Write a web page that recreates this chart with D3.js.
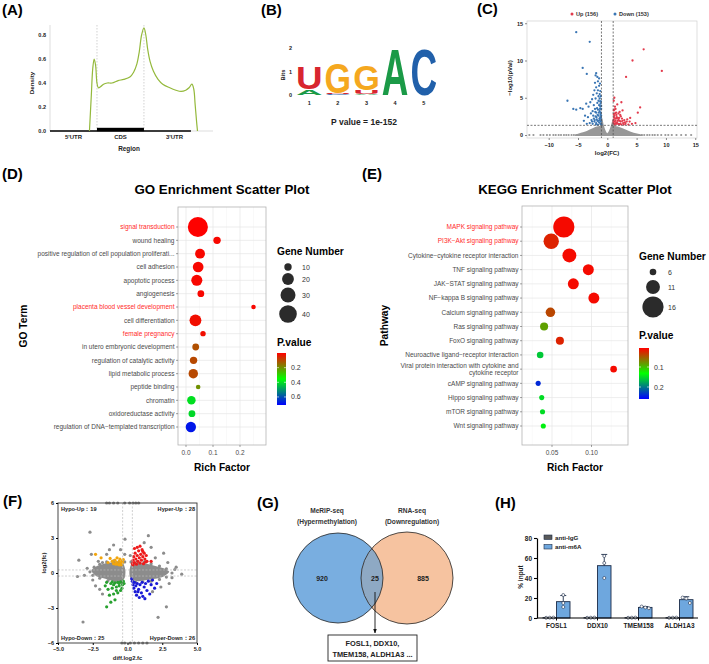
<!DOCTYPE html>
<html>
<head>
<meta charset="utf-8">
<script src="https://cdn.jsdelivr.net/npm/d3@7/dist/d3.min.js"></script>
<style>
  body { margin: 0; background: #fff; }
  text { font-family: "Liberation Sans", Arial, sans-serif; }
</style>
</head>
<body>
<div class="canvas"></div>
<script>
// ================= data =================

// (A) peak density along the transcript (0-1 5'UTR, 1-2 CDS, 2-3 3'UTR)
const regionNames = ["5'UTR", "CDS", "3'UTR"];
const densityTicks = [0, 0.2, 0.4, 0.6, 0.8];
const densityPos = [0.84,0.88,0.91,0.94,0.97,1.00,1.03,1.08,1.14,1.22,1.32,1.45,1.57,1.70,1.78,1.85,1.90,1.95,2.00,2.04,2.08,2.13,2.20,2.30,2.40,2.55,2.68,2.79,2.89,2.96,3.02,3.06,3.09,3.12,3.14];
const densityVal = [0.00,0.30,0.52,0.60,0.55,0.40,0.36,0.37,0.39,0.40,0.40,0.42,0.43,0.45,0.49,0.56,0.66,0.80,0.86,0.80,0.68,0.58,0.50,0.43,0.39,0.36,0.34,0.33,0.34,0.36,0.39,0.35,0.22,0.08,0.00];

// (B) motif logo, letters stacked bottom -> top, heights in bits
const logoPositions = [1, 2, 3, 4, 5];
const logoLetters = [['A','U'], ['C','U','G'], ['A','U','G'], ['A'], ['C']];
const logoBits = [[0.24,0.95], [0.05,0.05,1.30], [0.05,0.18,1.05], [2.0], [2.0]];
const motifP = '1e-152';

// (C) volcano
const volcanoLegend = ['Up', 'Down'];
const volcanoCounts = [156, 153];
const volcanoUp = [[6.2,11.5],[4.3,10.0],[9.3,8.6],[3.2,7.8],[5.2,3.0],[5.6,3.7],[2.6,3.3],[2.4,4.4],[1.7,4.1],[1.3,3.8],[1.1,3.3],[1.5,3.0],[1.9,2.9],[2.2,2.7],[1.2,2.6],[1.6,2.4],[2.0,2.3],[2.5,2.2],[2.9,2.0],[3.4,2.1],[3.8,1.8],[1.1,2.1],[1.4,1.9],[1.8,1.9],[2.3,1.8],[2.7,1.6],[3.1,1.5],[3.6,1.4],[4.2,1.5],[1.05,1.6],[1.3,1.5],[1.6,1.5],[2.0,1.45],[2.4,1.4],[1.2,1.8],[1.5,2.2],[1.9,2.1],[1.3,2.9],[1.1,4.6],[1.2,5.0],[3.0,1.7],[2.2,1.5],
  [1.05,1.9],[1.15,2.4],[1.25,1.4],[1.35,2.2],[1.45,1.6],[1.55,2.7],[1.65,1.7],[1.75,2.3],[1.85,1.5],[2.1,1.9],[2.3,2.5],[2.6,1.9],[2.8,1.4],[3.3,1.8],[1.1,2.8],[1.2,3.4],[1.4,3.5],[4.8,1.6],[3.9,2.3],[2.1,3.1]];
const volcanoDown = [[-5.3,13.8],[-3.0,12.5],[-4.2,9.0],[-3.5,8.2],[-1.9,8.3],[-2.0,8.0],[-6.8,4.6],[-5.8,3.5],[-5.3,3.4],[-4.6,3.6],[-4.2,3.5],[-3.6,4.2],[-3.2,3.8],[-2.9,4.4],[-2.6,4.8],[-2.4,5.4],[-2.2,6.0],[-1.9,6.4],[-1.6,7.2],[-1.4,6.6],[-1.8,5.6],[-1.5,5.2],[-1.2,5.9],[-1.3,4.9],[-1.1,4.5],[-2.0,4.9],[-2.3,4.0],[-1.7,4.3],[-1.4,4.0],[-1.2,3.8],[-3.8,2.6],[-3.3,2.4],[-2.8,2.9],[-2.5,3.2],[-2.1,3.5],[-1.9,3.0],[-1.6,3.4],[-1.3,3.2],[-1.1,3.0],[-2.7,2.0],[-2.3,2.2],[-2.0,2.5],[-1.8,2.1],[-1.5,2.6],[-1.2,2.4],[-1.05,2.0],[-3.0,1.6],[-2.5,1.5],[-2.2,1.8],[-1.9,1.6],[-1.7,1.9],[-1.4,1.7],[-1.2,1.5],[-1.1,1.8],[-1.6,1.4],[-1.3,2.0],[-1.05,2.6],[-1.05,3.5],[-1.15,4.2],[-1.0,1.4],[-4.0,1.9],[-3.5,1.5],
  [-1.05,1.5],[-1.1,2.3],[-1.15,2.8],[-1.25,3.5],[-1.35,2.2],[-1.45,3.0],[-1.55,1.9],[-1.65,2.7],[-1.75,3.6],[-1.85,2.4],[-1.95,1.4],[-2.05,3.1],[-2.15,2.0],[-2.4,2.6],[-2.6,1.8],[-1.2,4.5],[-1.3,5.5],[-1.5,4.6],[-1.05,3.9],[-1.1,5.2],[-1.6,6.0],[-1.4,7.6],[-1.25,6.9],[-1.7,7.8],[-2.1,7.0]];
// outline of the dense non-significant cloud [log2FC, top of cloud]
const volcanoNsCloud = [[-5.5,0.05],[-4.5,0.3],[-3.5,0.55],[-2.5,0.9],[-1.8,1.15],[-1.2,1.25],[-1.0,2.6],[-0.85,2.2],[-0.6,1.3],[-0.3,0.6],[0,0.25],[0.3,0.6],[0.6,1.2],[0.85,1.9],[1.0,2.1],[1.2,1.25],[1.8,1.15],[2.5,0.95],[3.5,0.6],[4.5,0.3],[6.0,0.05]];
// scattered non-significant points lying on -log10(p) ~ 0
const volcanoNsRow = [-13.3,-12.6,-11.4,-10.9,-10.3,-9.8,-9.2,-8.8,-8.3,-7.9,-7.4,-7.0,-6.6,-6.1,-5.7,-5.3,-4.9,-4.5,4.6,5.0,5.4,5.9,6.3,6.8,7.2,7.7,8.1,8.6,9.2,9.9,10.4,11.0,11.8,12.6,13.4,14.3];

// (D) GO enrichment
const goTerms = ['signal transduction','wound healing','positive regulation of cell population proliferati...','cell adhesion','apoptotic process','angiogenesis','placenta blood vessel development','cell differentiation','female pregnancy','in utero embryonic development','regulation of catalytic activity','lipid metabolic process','peptide binding','chromatin','oxidoreductase activity','regulation of DNA\u2212templated transcription'];
const goRich = [0.044,0.115,0.052,0.045,0.040,0.055,0.250,0.035,0.063,0.036,0.028,0.027,0.045,0.020,0.022,0.018];
const goGenes = [51,10,15,17,18,9,6,20,7,9,10,14,6,12,9,16];
const goP = [0.001,0.01,0.01,0.01,0.01,0.01,0.01,0.02,0.02,0.11,0.10,0.10,0.20,0.40,0.41,0.68];
const goHighlight = ['signal transduction','placenta blood vessel development','female pregnancy'];
const goSizeLegend = [10, 20, 30, 40];
const goPTicks = [0.2, 0.4, 0.6];

// (E) KEGG enrichment
const keggTerms = ['MAPK signaling pathway','PI3K\u2212Akt signaling pathway','Cytokine\u2212cytokine receptor interaction','TNF signaling pathway','JAK\u2212STAT signaling pathway','NF\u2212kappa B signaling pathway','Calcium signaling pathway','Ras signaling pathway','FoxO signaling pathway','Neuroactive ligand\u2212receptor interaction','Viral protein interaction with cytokine and\ncytokine receptor','cAMP signaling pathway','Hippo signaling pathway','mTOR signaling pathway','Wnt signaling pathway'];
const keggRich = [0.065,0.049,0.072,0.096,0.077,0.103,0.048,0.040,0.060,0.035,0.128,0.0325,0.037,0.038,0.039];
const keggGenes = [16,12,11,9,9,9,8,7,7,6,6,5,5,5,5];
const keggP = [0.01,0.022,0.01,0.01,0.01,0.01,0.04,0.085,0.022,0.16,0.01,0.24,0.15,0.15,0.14];
const keggHighlight = ['MAPK signaling pathway','PI3K\u2212Akt signaling pathway'];
const keggSizeLegend = [6, 11, 16];
const keggPTicks = [0.1, 0.2];

// (F) four-quadrant plot [diff.log2.fc, log2(fc)]
const quadNames = ['Hypo-Up', 'Hyper-Up', 'Hypo-Down', 'Hyper-Down'];
const quadCounts = [19, 28, 25, 26];
const fHypoUp = [[-2.3,1.6],[-1.9,1.3],[-1.25,1.25],[-1.1,1.0],[-1.0,0.8],[-0.9,1.1],[-0.8,0.9],[-0.75,1.3],[-0.7,0.75],[-0.6,1.0],[-0.55,1.2],[-0.5,0.85],[-0.45,0.7],[-0.4,1.05],[-0.35,0.9],[-0.3,1.15],[-0.6,0.7],[-0.85,0.75],[-1.4,0.9]];
const fHyperUp = [[0.35,0.8],[0.4,1.1],[0.45,1.4],[0.5,0.9],[0.55,1.7],[0.6,1.2],[0.65,0.75],[0.7,1.5],[0.75,1.0],[0.8,1.9],[0.85,1.3],[0.9,0.85],[0.95,1.6],[1.0,1.1],[1.05,2.0],[1.1,1.4],[1.15,0.8],[1.2,1.7],[1.25,1.2],[1.3,0.95],[1.35,1.5],[0.5,2.1],[0.7,2.2],[1.4,1.0],[1.7,1.0],[0.4,0.7],[0.9,2.3],[1.1,1.85]];
const fHypoDown = [[-1.5,-2.9],[-1.2,-2.5],[-0.9,-2.3],[-1.3,-1.9],[-1.0,-1.8],[-0.7,-1.7],[-0.5,-1.5],[-1.4,-1.4],[-1.1,-1.3],[-0.8,-1.2],[-0.6,-1.1],[-0.35,-1.0],[-1.2,-0.9],[-0.9,-0.85],[-0.7,-0.8],[-0.5,-0.75],[-0.3,-0.7],[-1.0,-1.0],[-0.4,-1.3],[-0.6,-0.9],[-1.5,-0.8],[-0.25,-0.9],[-0.8,-1.5],[-1.1,-0.75],[-1.6,-1.1]];
const fHyperDown = [[0.35,-0.7],[0.4,-1.0],[0.45,-1.3],[0.5,-0.8],[0.55,-1.6],[0.6,-1.1],[0.65,-1.9],[0.7,-0.9],[0.8,-1.4],[0.85,-2.1],[0.9,-1.0],[1.0,-1.7],[1.05,-0.8],[1.1,-2.0],[1.2,-1.2],[1.3,-0.9],[1.4,-1.5],[1.5,-0.7],[1.6,-1.8],[1.7,-1.0],[1.8,-0.6],[1.95,-1.3],[2.1,-0.9],[0.3,-0.5],[1.25,-2.2],[0.75,-1.6]];
const fOther = [[-2.7,3.5],[-0.18,2.9],[1.5,3.2],[-3.2,-4.2],[2.8,-2.9],[2.2,-3.8],[-3.5,1.1],[3.9,-0.1],[3.5,0.5],[2.6,1.7],[-2.6,1.6],[-1.5,1.6],[-2.3,-1.1],[-3.6,-0.3],[1.8,-1.6],[-1.0,2.4],[1.7,2.2],[-2.9,0.4],[-3.1,-0.2],[-2.5,-0.6],[-2.0,-1.4],[2.9,0.9],[3.2,-0.4],[2.4,-1.2],[3.0,-0.9],[-1.8,-1.8],[2.0,1.3],[-2.1,1.0],[-1.3,2.0],[0.2,1.5],[-0.2,1.6],[1.2,2.6],[-0.5,2.0],
  [-2.4,0.5],[-2.0,0.75],[-1.5,0.95],[-1.0,1.05],[-2.5,-0.2],[-2.0,-0.45],[-1.4,-0.65],[-0.9,-0.8],[-0.4,-0.85],[-2.7,0.1],[-1.8,0.9],[-0.2,0.95],
  [0.25,0.95],[0.7,1.0],[1.2,0.95],[1.7,0.8],[2.3,0.6],[2.8,0.35],[3.2,0.0],[2.8,-0.35],[2.3,-0.55],[1.7,-0.7],[1.1,-0.75],[0.6,-0.8],[3.4,0.3],
  [-1.5,6],[-1.3,6],[-1.0,6],[-0.7,6],[-0.2,6],[0.15,6],[0.4,6],[0.6,6],[0.8,6],
  [-0.4,-6],[-0.2,-6],[0.2,-6],[0.5,-6],[0.8,-6],[1.1,-6],[1.4,-6]];
// outlines of the two dense grey lobes
const fLobeLeft = [[-2.6,0.2],[-2.2,0.6],[-1.7,0.8],[-1.2,0.9],[-0.7,1.0],[-0.3,0.8],[-0.15,0.2],[-0.2,-0.4],[-0.5,-0.75],[-1.0,-0.7],[-1.6,-0.5],[-2.2,-0.3]];
const fLobeRight = [[0.15,0.3],[0.3,0.8],[0.8,0.9],[1.4,0.8],[2.0,0.6],[2.6,0.4],[3.0,0.1],[2.6,-0.3],[2.0,-0.5],[1.4,-0.6],[0.8,-0.7],[0.3,-0.6],[0.15,-0.2]];

// (G) Venn
const vennSets = [['MeRIP-seq','(Hypermethylation)'], ['RNA-seq','(Downregulation)']];
const vennCounts = [920, 25, 885];
const overlapGenes = ['FOSL1', 'DDX10', 'TMEM158', 'ALDH1A3'];

// (H) MeRIP-qPCR
const hGenes = ['FOSL1', 'DDX10', 'TMEM158', 'ALDH1A3'];
const hGroups = ['anti-IgG', 'anti-m6A'];
const igGReps = [[0.2,0.3,0.4],[0.2,0.3,0.4],[0.2,0.3,0.4],[0.2,0.3,0.4]];
const m6aReps = [[23,15,11],[62,55,40],[11.5,10.5,9.8],[20.5,19.5,15]];
const hTicks = [0, 20, 40, 60, 80];

// ================= drawing =================
const svg = d3.select('.canvas').append('svg')
    .attr('width', 709)
    .attr('height', 664)
    .style('background', '#fff');

function addText(g, x, y, s, o = {}) {
  return g.append('text').attr('x', x).attr('y', y).text(s)
    .attr('font-size', o.size || 6)
    .attr('font-weight', o.weight || 'normal')
    .attr('text-anchor', o.anchor || 'start')
    .attr('fill', o.fill || '#222');
}
function vText(g, x, y, s, o = {}) {
  return g.append('text').text(s)
    .attr('transform', `translate(${x},${y}) rotate(-90)`)
    .attr('font-size', o.size || 6)
    .attr('font-weight', o.weight || 'bold')
    .attr('text-anchor', 'middle')
    .attr('fill', o.fill || '#222');
}
function line(g, x1, y1, x2, y2, stroke, w, dash) {
  const l = g.append('line').attr('x1', x1).attr('y1', y1).attr('x2', x2).attr('y2', y2)
    .attr('stroke', stroke).attr('stroke-width', w || 1);
  if (dash) l.attr('stroke-dasharray', dash);
  return l;
}
function styleAxis(sel, size, weight) {
  sel.attr('font-family', null).attr('font-size', null);
  sel.selectAll('text').attr('font-size', size).attr('font-weight', weight).attr('fill', '#222');
}

// panel letters
const panelLetters = [['(A)',2,15],['(B)',261,15],['(C)',477,14],['(D)',2,179],['(E)',362,179],['(F)',3,506],['(G)',257,508],['(H)',495,508]];
panelLetters.forEach(p => addText(svg, p[1], p[2], p[0], {size: 15, weight: 'bold', fill: '#000'}));

// ---------- (A) ----------
{
  const g = svg.append('g');
  const x = d3.scaleLinear().domain([0, 3.47]).range([50, 213]);
  const y = d3.scaleLinear().domain([0, 0.8]).range([131, 35]);
  line(g, 50, 25, 50, 131, '#d4d4d4', 0.8);
  line(g, 50, 131, 213, 131, '#d4d4d4', 0.8);
  [1, 2].forEach(b => line(g, x(b), 25, x(b), 131, '#bdbdbd', 0.7, '1.5,1.5'));

  const yAxis = g.append('g').attr('transform', 'translate(50,0)')
    .call(d3.axisLeft(y).tickValues(densityTicks).tickSize(0).tickPadding(4).tickFormat(d3.format('.1f')));
  yAxis.select('.domain').remove();
  styleAxis(yAxis, 5.5, 'bold');

  // gene model
  line(g, x(0), 131, x(3), 131, '#000', 1.4);
  g.append('rect').attr('x', x(1)).attr('y', 127.8).attr('width', x(2) - x(1)).attr('height', 3.4).attr('fill', '#000');

  const pts = densityPos.map((p, i) => [p, densityVal[i]]);
  g.append('path').datum(pts)
    .attr('d', d3.line().x(d => x(d[0])).y(d => y(d[1])).curve(d3.curveCatmullRom))
    .attr('fill', 'none').attr('stroke', '#94b93c').attr('stroke-width', 1.2);

  [0.5, 1.5, 2.65].forEach((c, i) => addText(g, x(c), 138.8, regionNames[i], {size: 6, weight: 'bold', anchor: 'middle'}));
  addText(g, 129, 151, 'Region', {size: 6.4, weight: 'bold', anchor: 'middle'});
  vText(g, 33.5, 83, 'Density', {size: 6.2});
}

// ---------- (B) ----------
{
  const g = svg.append('g');
  const x = d3.scaleBand().domain(logoPositions).range([296, 437]).paddingInner(0.07);
  const y = d3.scaleLinear().domain([0, 2]).range([95, 48]);
  const logoColors = {A: '#1b9a47', C: '#2160aa', G: '#f5a81f', U: '#d8262f'};
  logoLetters.forEach((stack, i) => {
    let base = 0;
    stack.forEach((letter, j) => {
      const h = logoBits[i][j];
      const t = g.append('text').text(letter)
        .attr('font-size', 50).attr('font-weight', 'bold').attr('fill', logoColors[letter]);
      const w = t.node().getComputedTextLength();
      const sx = x.bandwidth() / w;
      const sy = (y(base) - y(base + h)) / (0.716 * 50);
      t.attr('transform', `translate(${x(logoPositions[i])},${y(base)}) scale(${sx},${sy})`);
      base += h;
    });
  });
  const xAxis = g.append('g').attr('transform', 'translate(0,97)')
    .call(d3.axisBottom(x).tickSize(0).tickPadding(4));
  xAxis.select('.domain').remove();
  styleAxis(xAxis, 5.5, 'bold');
  const yAxis = g.append('g').attr('transform', 'translate(294,0)')
    .call(d3.axisLeft(y).tickValues([0, 1, 2]).tickFormat(d3.format('d')).tickSize(0).tickPadding(2));
  yAxis.select('.domain').remove();
  styleAxis(yAxis, 5.5, 'bold');
  vText(g, 285, 75, 'Bits', {size: 5.8});
  addText(g, 364, 125, 'P value = ' + motifP, {size: 8.5, weight: 'bold', anchor: 'middle'});
}

// ---------- (C) ----------
{
  const g = svg.append('g');
  const x = d3.scaleLinear().domain([-13.7, 15.3]).range([527, 697]);
  const y = d3.scaleLinear().domain([-0.4, 15.3]).range([138, 21]);
  g.append('rect').attr('x', 527).attr('y', 21).attr('width', 170).attr('height', 117)
    .attr('fill', 'none').attr('stroke', '#d0d0d0').attr('stroke-width', 0.7);

  g.append('path').datum(volcanoNsCloud)
    .attr('d', d3.area().x(d => x(d[0])).y0(y(-0.12)).y1(d => y(d[1])).curve(d3.curveMonotoneX))
    .attr('fill', '#979797');
  g.selectAll('circle.row').data(volcanoNsRow).join('circle')
    .attr('cx', d => x(d)).attr('cy', y(0)).attr('r', 1.1).attr('fill', '#979797');
  g.selectAll('circle.dn').data(volcanoDown).join('circle')
    .attr('cx', d => x(d[0])).attr('cy', d => y(d[1])).attr('r', 1.15).attr('fill', '#3a76b4');
  g.selectAll('circle.up').data(volcanoUp).join('circle')
    .attr('cx', d => x(d[0])).attr('cy', d => y(d[1])).attr('r', 1.15).attr('fill', '#e33b4d');

  [-1, 1].forEach(v => line(g, x(v), 21, x(v), 138, '#555', 0.8, '2,1.5'));
  line(g, 527, y(1.3), 697, y(1.3), '#555', 0.8, '2,1.5');

  const xAxis = g.append('g').attr('transform', 'translate(0,138)')
    .call(d3.axisBottom(x).tickValues([-10, -5, 0, 5, 10, 15]).tickSize(2).tickPadding(3));
  xAxis.select('.domain').remove();
  styleAxis(xAxis, 5.5, 'bold');
  const yAxis = g.append('g').attr('transform', 'translate(527,0)')
    .call(d3.axisLeft(y).tickValues([0, 5, 10, 15]).tickSize(2).tickPadding(2));
  yAxis.select('.domain').remove();
  styleAxis(yAxis, 5.5, 'bold');
  xAxis.selectAll('line').attr('stroke', '#888');
  yAxis.selectAll('line').attr('stroke', '#888');
  addText(g, 607, 155, 'log2(FC)', {size: 6, weight: 'bold', anchor: 'middle'});
  vText(g, 511.5, 78, '\u2212log10(pVal)', {size: 6});

  const legCol = ['#e33b4d', '#3a76b4'];
  [572, 615].forEach((lx, i) => {
    g.append('circle').attr('cx', lx).attr('cy', 14).attr('r', 1.5).attr('fill', legCol[i]);
    addText(g, lx + 4, 16, `${volcanoLegend[i]} (${volcanoCounts[i]})`, {size: 5.6, weight: 'bold', fill: '#333'});
  });
}

// ---------- (D) & (E) ----------
function enrichPlot(o) {
  const g = svg.append('g');
  const [bx0, by0, bx1, by1] = o.box;
  const x = d3.scaleLinear().domain(o.xDomain).range(o.xRange);
  const y = d3.scalePoint().domain(o.terms).range(o.rows);
  const col = d3.scaleLinear().domain(o.pStops).range(['#ff0000', '#00ff00', '#0000ff']).interpolate(d3.interpolateRgb);

  g.append('rect').attr('x', bx0).attr('y', by0).attr('width', bx1 - bx0).attr('height', by1 - by0).attr('fill', '#fff');
  o.minor.forEach(v => line(g, x(v), by0, x(v), by1, '#f2f2f2', 0.5));
  o.major.forEach(v => line(g, x(v), by0, x(v), by1, '#e5e5e5', 0.7));
  o.terms.forEach(t => line(g, bx0, y(t), bx1, y(t), '#e5e5e5', 0.7));

  const pts = o.terms.map((t, i) => ({t, rf: o.rich[i], n: o.genes[i], p: o.p[i]}));
  g.selectAll('circle.pt').data(pts).join('circle')
    .attr('cx', d => x(d.rf)).attr('cy', d => y(d.t)).attr('r', d => o.size(d.n))
    .attr('fill', d => col(d.p));
  g.append('rect').attr('x', bx0).attr('y', by0).attr('width', bx1 - bx0).attr('height', by1 - by0)
    .attr('fill', 'none').attr('stroke', '#b3b3b3').attr('stroke-width', 0.8);

  // y labels
  o.terms.forEach(t => {
    line(g, bx0 - 2, y(t), bx0, y(t), '#444', 0.5);
    const lines = t.split('\n');
    const tx = g.append('text').attr('x', bx0 - 3.5).attr('y', y(t))
      .attr('font-size', 6.5).attr('text-anchor', 'end')
      .attr('fill', o.highlight.includes(t) ? '#ff2a2a' : '#4a4a4a');
    lines.forEach((s, k) => tx.append('tspan').attr('x', bx0 - 3.5)
      .attr('dy', k === 0 ? (0.35 - (lines.length - 1) * 0.55) + 'em' : '1.1em').text(s));
  });
  // x ticks
  o.major.forEach(v => {
    line(g, x(v), by1, x(v), by1 + 2, '#444', 0.5);
    addText(g, x(v), by1 + 9.5, o.fmt(v), {size: 6.5, anchor: 'middle', fill: '#4a4a4a'});
  });
  const cx = (bx0 + bx1) / 2;
  addText(g, cx, 194, o.title, {size: 13.3, weight: 'bold', anchor: 'middle', fill: '#000'});
  addText(g, cx, 471, 'Rich Factor', {size: 10.2, weight: 'bold', anchor: 'middle', fill: '#000'});
  vText(g, o.yLabX, (by0 + by1) / 2, o.yLabel, {size: 10.2, fill: '#000'});

  // size legend
  const L = o.sizeLeg;
  addText(g, L.x, L.y, 'Gene Number', {size: 10.2, weight: 'bold', fill: '#000'});
  o.sizeValues.forEach((v, i) => {
    g.append('circle').attr('cx', L.cx).attr('cy', L.cy[i]).attr('r', o.size(v)).attr('fill', '#2b2b2b');
    addText(g, L.tx, L.cy[i] + 2.5, v, {size: 7, fill: '#333'});
  });

  // colour bar
  const C = o.colLeg;
  addText(g, C.x, C.y, 'P.value', {size: 10.2, weight: 'bold', fill: '#000'});
  const barY = d3.scaleLinear().domain([o.pStops[0], o.pStops[2]]).range([C.y0, C.y1]);
  const grad = svg.append('defs').append('linearGradient').attr('id', o.id)
    .attr('x1', 0).attr('x2', 0).attr('y1', 0).attr('y2', 1);
  d3.range(0, 1.0001, 0.05).forEach(f => grad.append('stop').attr('offset', f)
    .attr('stop-color', col(o.pStops[0] + f * (o.pStops[2] - o.pStops[0]))));
  g.append('rect').attr('x', C.bx).attr('y', C.y0).attr('width', C.w).attr('height', C.y1 - C.y0)
    .attr('fill', `url(#${o.id})`);
  o.pTicks.forEach(v => {
    line(g, C.bx, barY(v), C.bx + 2, barY(v), '#fff', 0.6);
    line(g, C.bx + C.w - 2, barY(v), C.bx + C.w, barY(v), '#fff', 0.6);
    addText(g, C.bx + C.w + 5, barY(v) + 2.5, v, {size: 7, fill: '#333'});
  });
}

enrichPlot({
  id: 'goGrad', title: 'GO Enrichment Scatter Plot', yLabel: 'GO Term', yLabX: 27,
  terms: goTerms, rich: goRich, genes: goGenes, p: goP, highlight: goHighlight,
  box: [178, 207, 266, 445], xDomain: [0, 0.1], xRange: [186, 213], rows: [227, 427],
  major: [0, 0.1, 0.2], minor: [0.05, 0.15, 0.25], fmt: d3.format('.1f'),
  pStops: [0, 0.355, 0.71], pTicks: goPTicks,
  size: d3.scaleRadial().domain([10, 40]).range([3.7, 8.8]),
  sizeValues: goSizeLegend,
  sizeLeg: {x: 277, y: 255, cx: 288, cy: [267, 279, 295, 314], tx: 302},
  colLeg: {x: 277, y: 346, bx: 277, w: 9, y0: 353, y1: 405}
});

enrichPlot({
  id: 'keggGrad', title: 'KEGG Enrichment Scatter Plot', yLabel: 'Pathway', yLabX: 388,
  terms: keggTerms, rich: keggRich, genes: keggGenes, p: keggP, highlight: keggHighlight,
  box: [522, 206, 628, 445], xDomain: [0.05, 0.1], xRange: [552, 591.5], rows: [227, 426],
  major: [0.05, 0.1], minor: [0.025, 0.075, 0.125], fmt: d3.format('.2f'),
  pStops: [0.005, 0.1325, 0.26], pTicks: keggPTicks,
  size: d3.scaleLinear().domain([6, 16]).range([3.3, 10.6]),
  sizeValues: keggSizeLegend,
  sizeLeg: {x: 639, y: 260, cx: 653, cy: [272, 287, 307], tx: 668},
  colLeg: {x: 639, y: 339, bx: 639, w: 10, y0: 348, y1: 399}
});

// ---------- (F) ----------
{
  const g = svg.append('g');
  const x = d3.scaleLinear().domain([-5, 5]).range([58, 197]);
  const y = d3.scaleLinear().domain([-6, 6]).range([643, 503]);
  const lobe = d3.line().x(d => x(d[0])).y(d => y(d[1])).curve(d3.curveCardinalClosed.tension(0.3));
  [fLobeLeft, fLobeRight].forEach(l => g.append('path').datum(l).attr('d', lobe).attr('fill', '#8c8c8c'));
  const groups = [[fOther, '#8c8c8c'], [fHypoUp, '#f2a50c'], [fHyperUp, '#ee1b1b'], [fHypoDown, '#27a12f'], [fHyperDown, '#1a1ad6']];
  groups.forEach(([pts, c]) => g.append('g').selectAll('circle').data(pts).join('circle')
    .attr('cx', d => x(d[0])).attr('cy', d => y(d[1])).attr('r', 1.6).attr('fill', c));
  [-0.35, 0.35].forEach(v => line(g, x(v), 503, x(v), 643, '#bbb', 0.7, '2,1.5'));
  [-0.26, 0.26].forEach(v => line(g, 58, y(v), 197, y(v), '#bbb', 0.7, '2,1.5'));
  g.append('rect').attr('x', 58).attr('y', 503).attr('width', 139).attr('height', 140)
    .attr('fill', 'none').attr('stroke', '#333').attr('stroke-width', 0.9);

  const xAxis = g.append('g').attr('transform', 'translate(0,643)')
    .call(d3.axisBottom(x).tickValues([-5, -2.5, 0, 2.5, 5]).tickFormat(d3.format('.1f')).tickSize(2).tickPadding(2));
  xAxis.select('.domain').remove();
  styleAxis(xAxis, 5.5, 'bold');
  const yAxis = g.append('g').attr('transform', 'translate(58,0)')
    .call(d3.axisLeft(y).tickValues([-6, -3, 0, 3, 6]).tickSize(2).tickPadding(2));
  yAxis.select('.domain').remove();
  styleAxis(yAxis, 5.5, 'bold');
  addText(g, 127.5, 660, 'diff.log2.fc', {size: 5.8, weight: 'bold', anchor: 'middle'});
  vText(g, 46, 563, 'log2(fc)', {size: 5.8});

  const q = (i) => `${quadNames[i]}\uff1a${quadCounts[i]}`;
  addText(g, 61, 511, q(0), {size: 5.6, weight: 'bold'});
  addText(g, 195, 511, q(1), {size: 5.6, weight: 'bold', anchor: 'end'});
  addText(g, 61, 640, q(2), {size: 5.6, weight: 'bold'});
  addText(g, 195, 640, q(3), {size: 5.6, weight: 'bold', anchor: 'end'});
}

// ---------- (G) ----------
{
  const g = svg.append('g');
  const circles = [{cx: 338, cy: 578, r: 45, fill: '#79aee0'}, {cx: 407, cy: 578, r: 46, fill: '#f6c3a0'}];
  circles.forEach(c => g.append('circle').attr('cx', c.cx).attr('cy', c.cy).attr('r', c.r).attr('fill', c.fill));
  svg.append('defs').append('clipPath').attr('id', 'vennClip')
    .append('circle').attr('cx', circles[0].cx).attr('cy', circles[0].cy).attr('r', circles[0].r);
  g.append('circle').attr('cx', circles[1].cx).attr('cy', circles[1].cy).attr('r', circles[1].r)
    .attr('fill', '#8ea9c4').attr('clip-path', 'url(#vennClip)');
  circles.forEach(c => g.append('circle').attr('cx', c.cx).attr('cy', c.cy).attr('r', c.r)
    .attr('fill', 'none').attr('stroke', '#222').attr('stroke-width', 0.8));

  [327, 412].forEach((lx, i) => {
    addText(g, lx, 513, vennSets[i][0], {size: 6.6, weight: 'bold', anchor: 'middle', fill: '#333'});
    addText(g, lx, 523.5, vennSets[i][1], {size: 6.6, weight: 'bold', anchor: 'middle', fill: '#333'});
  });
  [322, 375, 423].forEach((cx, i) => addText(g, cx, 580.5, vennCounts[i], {size: 7, weight: 'bold', anchor: 'middle'}));

  const defs = svg.append('defs');
  defs.append('marker').attr('id', 'arrow').attr('viewBox', '0 0 10 10').attr('refX', 9).attr('refY', 5)
    .attr('markerWidth', 5).attr('markerHeight', 5).attr('orient', 'auto')
    .append('path').attr('d', 'M0,1 L10,5 L0,9 z').attr('fill', '#111');
  line(g, 375, 592, 375, 633, '#111', 0.9).attr('marker-end', 'url(#arrow)');

  g.append('rect').attr('x', 328).attr('y', 635).attr('width', 89).attr('height', 26)
    .attr('fill', '#fff').attr('stroke', '#222').attr('stroke-width', 0.9);
  addText(g, 372.5, 645.5, overlapGenes.slice(0, 2).join(', ') + ',', {size: 7.4, weight: 'bold', anchor: 'middle'});
  addText(g, 372.5, 656.5, overlapGenes.slice(2).join(', ') + ' ...', {size: 7.4, weight: 'bold', anchor: 'middle'});
}

// ---------- (H) ----------
{
  const g = svg.append('g');
  const x = d3.scaleBand().domain(hGenes).range([536, 700]);
  const xs = d3.scaleBand().domain(hGroups).range([7, 34]);
  const y = d3.scaleLinear().domain([0, 80]).range([618, 538]);
  const fills = {'anti-IgG': '#5a5a5a', 'anti-m6A': '#6ea7de'};
  const reps = {'anti-IgG': igGReps, 'anti-m6A': m6aReps};
  hGenes.forEach((gene, i) => {
    hGroups.forEach(grp => {
      const vals = reps[grp][i];
      const m = d3.mean(vals), sd = d3.deviation(vals);
      const bx = x(gene) + xs(grp), bw = xs.bandwidth(), cx = bx + bw / 2;
      g.append('rect').attr('x', bx).attr('y', y(m)).attr('width', bw).attr('height', y(0) - y(m))
        .attr('fill', fills[grp]).attr('stroke', '#1c2c48').attr('stroke-width', 0.9);
      line(g, cx, y(m), cx, y(m + sd), '#1c2c48', 0.9);
      line(g, cx - 3, y(m + sd), cx + 3, y(m + sd), '#1c2c48', 0.9);
      const spread = d3.max(vals) - d3.min(vals) < 6;
      vals.forEach((v, k) => g.append('circle')
        .attr('cx', cx + (spread ? (k - 1) * 3.6 : 0)).attr('cy', y(v)).attr('r', 1.5)
        .attr('fill', '#fff').attr('stroke', '#1c2c48').attr('stroke-width', 0.6));
    });
  });
  const yAxis = g.append('g').attr('transform', 'translate(537,0)')
    .call(d3.axisLeft(y).tickValues(hTicks).tickSize(3).tickSizeOuter(0).tickPadding(2));
  yAxis.select('.domain').attr('stroke-width', 1.2);
  yAxis.selectAll('line').attr('stroke-width', 1.1);
  styleAxis(yAxis, 6.5, 'bold');
  const xAxis = g.append('g').attr('transform', 'translate(0,618)')
    .call(d3.axisBottom(x).tickSize(2.5).tickSizeOuter(0).tickPadding(3));
  xAxis.select('.domain').attr('d', 'M537,0H698').attr('stroke-width', 1.2);
  styleAxis(xAxis, 6.5, 'bold');
  vText(g, 523, 577, '% input', {size: 6.5});

  hGroups.forEach((grp, i) => {
    g.append('rect').attr('x', 544).attr('y', 535 + i * 9.5).attr('width', 8).attr('height', 4.5)
      .attr('fill', fills[grp]).attr('stroke', '#1c2c48').attr('stroke-width', 0.6);
    addText(g, 555, 539.5 + i * 9.5, grp, {size: 6.2, weight: 'bold'});
  });
}
</script>
</body>
</html>
